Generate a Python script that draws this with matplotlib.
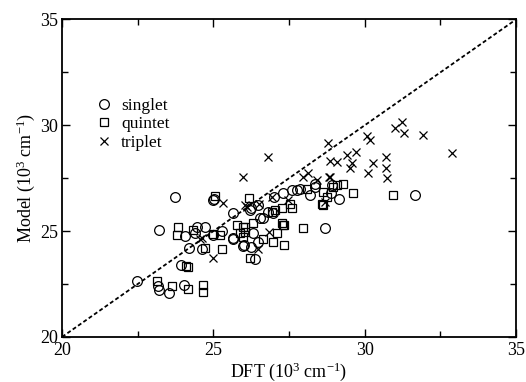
import matplotlib
matplotlib.use("Agg")
import matplotlib.pyplot as plt
from matplotlib.ticker import MultipleLocator

plt.rcParams['font.family'] = ['Liberation Serif', 'DejaVu Serif']
plt.rcParams['mathtext.fontset'] = 'custom'
plt.rcParams['mathtext.rm'] = 'Liberation Serif'
plt.rcParams['mathtext.it'] = 'Liberation Serif:italic'

singlet_x = [23.20, 24.06, 24.39, 24.99, 25.65, 24.20, 24.61, 23.92, 22.47, 23.16, 23.20, 23.55,
             24.03, 23.73, 25.02, 24.47, 24.72, 25.66, 26.23, 27.31, 26.98, 26.65, 25.66, 28.69,
             25.99, 26.23, 26.49, 26.38, 28.36, 27.76, 28.36, 28.91, 31.66, 29.16, 25.00, 26.21,
             26.49, 26.54, 26.30, 26.01, 27.00, 27.60, 27.85, 28.20, 28.90, 26.80, 25.30]
singlet_y = [25.04, 24.79, 24.91, 24.82, 24.68, 24.20, 24.16, 23.40, 22.62, 22.41, 22.22, 22.07,
             22.43, 26.63, 26.51, 25.21, 25.21, 24.61, 26.11, 26.82, 25.84, 25.61, 25.84, 25.13,
             24.30, 24.27, 24.50, 23.67, 27.10, 26.95, 27.22, 27.18, 26.71, 26.51, 26.47, 26.00,
             26.24, 25.61, 24.90, 24.35, 26.60, 26.95, 27.00, 26.70, 26.80, 25.90, 25.00]

quintet_x = [23.81, 25.22, 24.72, 25.29, 24.10, 24.17, 23.13, 23.62, 24.17, 24.65, 24.65, 25.05,
             23.82, 24.34, 25.00, 25.77, 26.19, 26.93, 27.26, 27.59, 26.05, 26.05, 26.30, 27.09,
             27.26, 27.97, 26.65, 26.96, 27.33, 26.21, 28.08, 28.63, 28.96, 28.58, 29.10, 29.28,
             29.63, 30.92, 28.74, 27.33, 25.99, 25.88, 25.99, 27.29, 27.04, 27.53, 28.63]
quintet_y = [24.82, 24.82, 24.20, 24.16, 23.37, 23.32, 22.62, 22.41, 22.25, 22.43, 22.10, 26.66,
             25.21, 25.06, 24.85, 25.29, 26.55, 25.92, 26.08, 26.08, 25.21, 24.98, 25.37, 24.93,
             25.37, 25.13, 24.61, 24.50, 24.35, 23.72, 26.98, 26.87, 27.07, 26.27, 27.18, 27.22,
             26.82, 26.71, 26.60, 25.29, 25.19, 24.90, 24.74, 25.29, 26.00, 26.29, 26.24]

triplet_x = [24.61, 24.99, 25.31, 24.56, 25.99, 27.97, 28.14, 28.43, 28.83, 28.69, 26.05, 26.52,
             26.93, 27.48, 26.85, 26.49, 31.22, 31.00, 31.30, 30.07, 30.16, 28.80, 29.40, 29.71,
             28.85, 29.07, 29.57, 29.51, 30.28, 30.70, 30.70, 30.75, 30.12, 28.85, 31.94, 32.90,
             26.10, 26.80]
triplet_y = [24.66, 23.73, 26.32, 24.61, 27.57, 27.57, 27.76, 27.42, 27.55, 26.39, 26.24, 26.27,
             26.63, 26.47, 24.98, 24.14, 30.17, 29.86, 29.65, 29.50, 29.31, 29.15, 28.60, 28.76,
             28.33, 28.28, 28.20, 27.97, 28.24, 28.52, 28.00, 27.50, 27.76, 27.55, 29.54, 28.71,
             26.16, 28.50]

diag = [20, 35]

fig = plt.figure(figsize=(5.26, 3.82), dpi=100)
ax = fig.add_axes([0.118, 0.118, 0.863, 0.831])

ax.plot(diag, diag, color='black', lw=1.3, ls=(0, (2.2, 1.4)), zorder=1)
ax.plot(singlet_x, singlet_y, ls='none', marker='o', ms=7, mfc='none', mec='black', mew=0.9,
        label='singlet')
ax.plot(quintet_x, quintet_y, ls='none', marker='s', ms=6, mfc='none', mec='black', mew=0.9,
        label='quintet')
ax.plot(triplet_x, triplet_y, ls='none', marker='x', ms=5.5, color='black', mew=0.9,
        label='triplet')

ax.set_xlim(20, 35)
ax.set_ylim(20, 35)
ax.xaxis.set_major_locator(MultipleLocator(5))
ax.yaxis.set_major_locator(MultipleLocator(5))
ax.xaxis.set_minor_locator(MultipleLocator(2.5))
ax.yaxis.set_minor_locator(MultipleLocator(2.5))
ax.tick_params(which='both', direction='in', top=True, right=True, labelsize=13, width=1.0)
ax.tick_params(which='major', length=6)
ax.tick_params(which='minor', length=4)
ax.tick_params(axis='x', pad=4)
ax.tick_params(axis='y', pad=3)
for s in ax.spines.values():
    s.set_linewidth(1.3)

ax.set_xlabel('DFT (10$^3$ cm$^{-1}$)', fontsize=13, labelpad=1)
ax.set_ylabel('Model (10$^3$ cm$^{-1}$)', fontsize=13, labelpad=2)

ax.legend(loc='upper left', bbox_to_anchor=(0.055, 0.78), frameon=False, fontsize=12.5,
          handlelength=1.0, handletextpad=0.45, labelspacing=0.12, borderpad=0)

fig.savefig('out.png', dpi=100)
